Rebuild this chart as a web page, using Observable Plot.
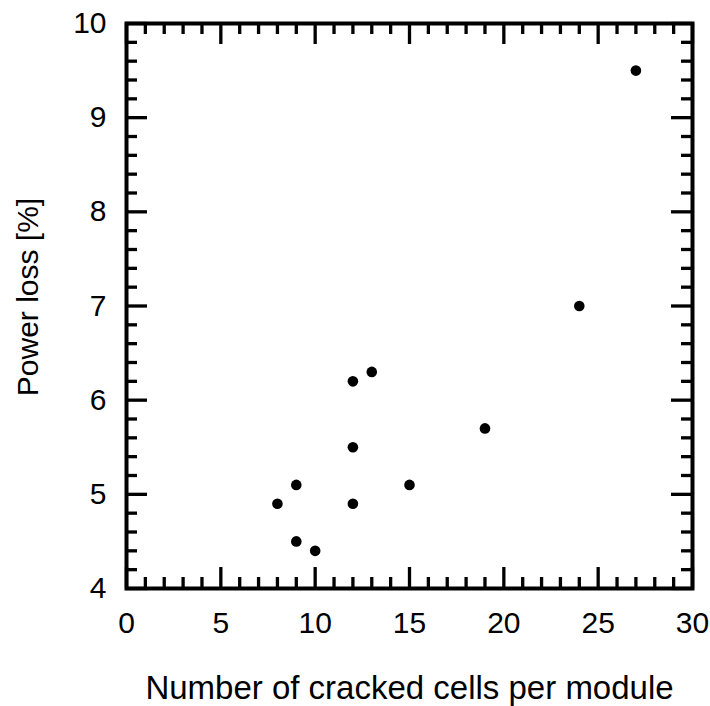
<!DOCTYPE html>
<html>
<head>
<meta charset="utf-8">
<script src="https://cdn.jsdelivr.net/npm/d3@7"></script>
<script src="https://cdn.jsdelivr.net/npm/@observablehq/plot@0.6"></script>
<style>
  html, body { margin: 0; padding: 0; background: #fff; }
  #chart svg { display: block; }
</style>
</head>
<body>
<div id="chart"></div>
<script>
// Data
const crackedCells = [8, 9, 9, 10, 12, 12, 12, 13, 15, 19, 24, 27];
const powerLoss    = [4.9, 5.1, 4.5, 4.4, 6.2, 5.5, 4.9, 6.3, 5.1, 5.7, 7.0, 9.5];

const xMajorTicks = [0, 5, 10, 15, 20, 25, 30];
const yMajorTicks = [4, 5, 6, 7, 8, 9, 10];
const xTickLabels = ["0", "5", "10", "15", "20", "25", "30"];
const yTickLabels = ["4", "5", "6", "7", "8", "9", "10"];
const xMinorTicks = d3.range(0, 31, 1).filter(v => v % 5 !== 0);
const yMinorTicks = d3.range(4, 10.0001, 0.2).map(v => +v.toFixed(1)).filter(v => Math.abs(v - Math.round(v)) > 0.01);

const xTitle = "Number of cracked cells per module";
const yTitle = "Power loss [%]";

const points = crackedCells.map((x, i) => ({x, y: powerLoss[i]}));

const W = 710, H = 706;
const mT = 23, mB = 118, mL = 126, mR = 18;
const plotH = H - mT - mB;
const plotW = W - mL - mR;
const majorLen = 21, minorLen = 11;
const tw = 3.3;
const font = "'Liberation Sans', Arial, Helvetica, sans-serif";

const chart = Plot.plot({
  width: W,
  height: H,
  marginTop: mT,
  marginBottom: mB,
  marginLeft: mL,
  marginRight: mR,
  style: {fontFamily: font, color: "#000", background: "#fff"},
  x: {domain: [0, 30], axis: null},
  y: {domain: [4, 10], axis: null},
  marks: [
    // inward ticks, bottom & top
    Plot.ruleX(xMajorTicks, {x: d => d, insetTop: plotH - majorLen, stroke: "#000", strokeWidth: tw}),
    Plot.ruleX(xMinorTicks, {x: d => d, insetTop: plotH - minorLen, stroke: "#000", strokeWidth: tw}),
    Plot.ruleX(xMajorTicks, {x: d => d, insetBottom: plotH - majorLen, stroke: "#000", strokeWidth: tw}),
    Plot.ruleX(xMinorTicks, {x: d => d, insetBottom: plotH - minorLen, stroke: "#000", strokeWidth: tw}),
    // inward ticks, left & right
    Plot.ruleY(yMajorTicks, {y: d => d, insetRight: plotW - majorLen, stroke: "#000", strokeWidth: tw}),
    Plot.ruleY(yMinorTicks, {y: d => d, insetRight: plotW - minorLen, stroke: "#000", strokeWidth: tw}),
    Plot.ruleY(yMajorTicks, {y: d => d, insetLeft: plotW - majorLen, stroke: "#000", strokeWidth: tw}),
    Plot.ruleY(yMinorTicks, {y: d => d, insetLeft: plotW - minorLen, stroke: "#000", strokeWidth: tw}),
    Plot.frame({stroke: "#000", strokeWidth: 4}),
    // tick labels
    Plot.text(xMajorTicks, {x: d => d, text: (d, i) => xTickLabels[i], frameAnchor: "bottom", lineAnchor: "top", textAnchor: "middle", dy: 23, fontSize: 30, fill: "#000"}),
    Plot.text(yMajorTicks, {y: d => d, text: (d, i) => yTickLabels[i], frameAnchor: "left", lineAnchor: "middle", textAnchor: "end", dx: -20, fontSize: 30, fill: "#000"}),
    Plot.dot(points, {x: "x", y: "y", r: 5.3, fill: "#000", stroke: "none"}),
    // axis titles
    Plot.text([xTitle], {frameAnchor: "bottom", text: d => d, dy: 100, fontSize: 33, textAnchor: "middle", lineAnchor: "middle", fill: "#000"}),
    Plot.text([yTitle], {frameAnchor: "left", text: d => d, dx: -98, dy: -9, rotate: -90, fontSize: 30, textAnchor: "middle", lineAnchor: "middle", fill: "#000"})
  ]
});
document.getElementById("chart").appendChild(chart);
</script>
</body>
</html>
